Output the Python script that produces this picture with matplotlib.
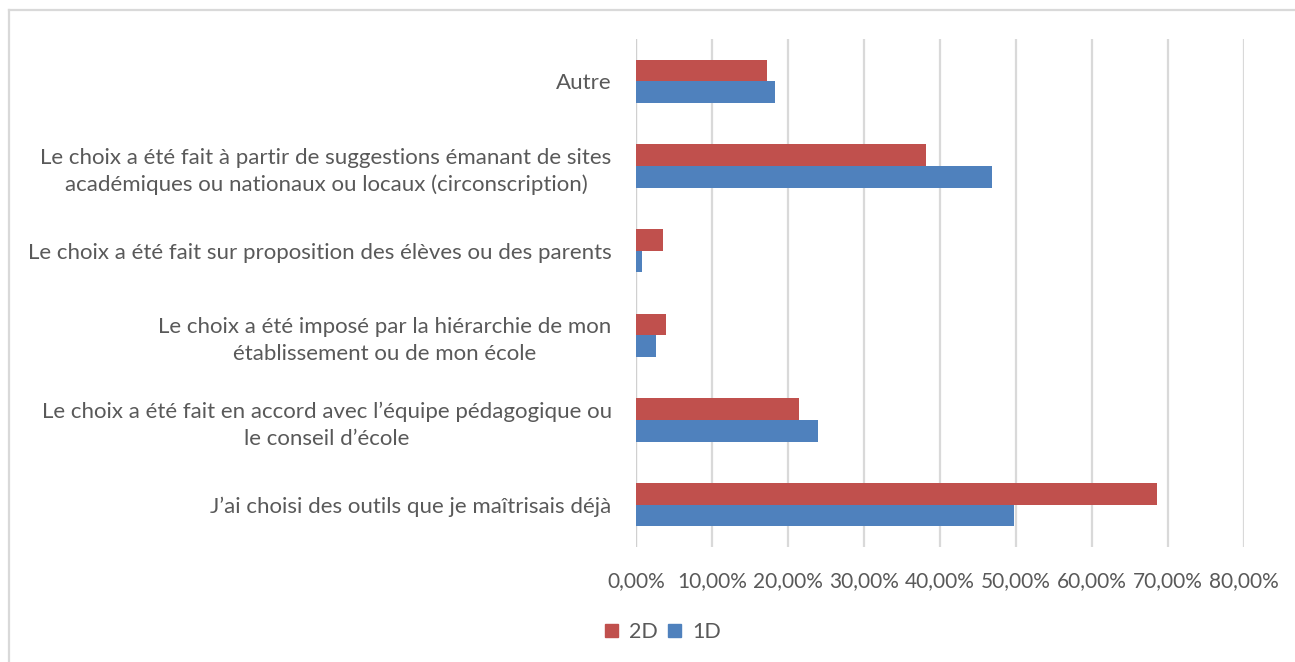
import matplotlib
matplotlib.use("Agg")
import matplotlib.pyplot as plt
from matplotlib.lines import Line2D
from matplotlib.patches import Patch
import numpy as np

plt.rcParams['font.family'] = ['Lato', 'DejaVu Sans']

categories = [
    "J’ai choisi des outils que je maîtrisais déjà",
    "Le choix a été fait en accord avec l’équipe pédagogique ou\nle conseil d’école",
    "Le choix a été imposé par la hiérarchie de mon\nétablissement ou de mon école",
    "Le choix a été fait sur proposition des élèves ou des parents",
    "Le choix a été fait à partir de suggestions émanant de sites\nacadémiques ou nationaux ou locaux (circonscription)",
    "Autre",
]
values_2d = [68.6, 21.5, 4.0, 3.5, 38.2, 17.2]
values_1d = [49.8, 23.9, 2.6, 0.8, 46.8, 18.3]
xticks = [0, 10, 20, 30, 40, 50, 60, 70, 80]
xticklabels = ["0,00%", "10,00%", "20,00%", "30,00%", "40,00%", "50,00%", "60,00%", "70,00%", "80,00%"]

red = "#C0504D"
blue = "#4F81BD"
txt = "#595959"
grid = "#D9D9D9"

W, H = 1295, 662
fig = plt.figure(figsize=(W/100, H/100), dpi=100)
ax = fig.add_axes([636/W, 1-547/H, (1244-636)/W, (547-39)/H])

y = np.arange(len(categories))
bh = 0.255
ax.barh(y + bh/2, values_2d, height=bh, color=red, label="2D", zorder=3)
ax.barh(y - bh/2, values_1d, height=bh, color=blue, label="1D", zorder=3)

ax.set_xlim(0, 80)
ax.set_ylim(-0.5, len(categories) - 0.5)
ax.set_xticks(xticks)
ax.set_xticklabels(xticklabels)
ax.set_yticks(y)
ax.set_yticklabels(categories, multialignment='center', linespacing=1.4)
ax.tick_params(axis='both', length=0, colors=txt)
ax.tick_params(axis='x', labelsize=15, pad=17)
ax.tick_params(axis='y', labelsize=16, pad=17.5)
ax.xaxis.grid(True, color=grid, linewidth=1.6, zorder=0)
for s in ax.spines.values():
    s.set_visible(False)
ax.axvline(0, color="#D0D0D0", linewidth=1.6, zorder=2)

# chart border (top and left visible)
fig.add_artist(Line2D([9/W, 9/W], [0, 1-9.5/H], color="#D9D9D9", linewidth=1.6, transform=fig.transFigure))
fig.add_artist(Line2D([9/W, 1], [1-9.5/H, 1-9.5/H], color="#D9D9D9", linewidth=1.6, transform=fig.transFigure))

handles = [Patch(color=red, label="2D"), Patch(color=blue, label="1D")]
leg = fig.legend(handles=handles, loc='center', bbox_to_anchor=(663/W, 1-632/H), ncol=2,
                 frameon=False, handlelength=0.6, handleheight=0.6, handletextpad=0.5,
                 columnspacing=0.5, fontsize=15.5)
for t in leg.get_texts():
    t.set_color(txt)

fig.savefig("out.png", dpi=100, facecolor="white")
